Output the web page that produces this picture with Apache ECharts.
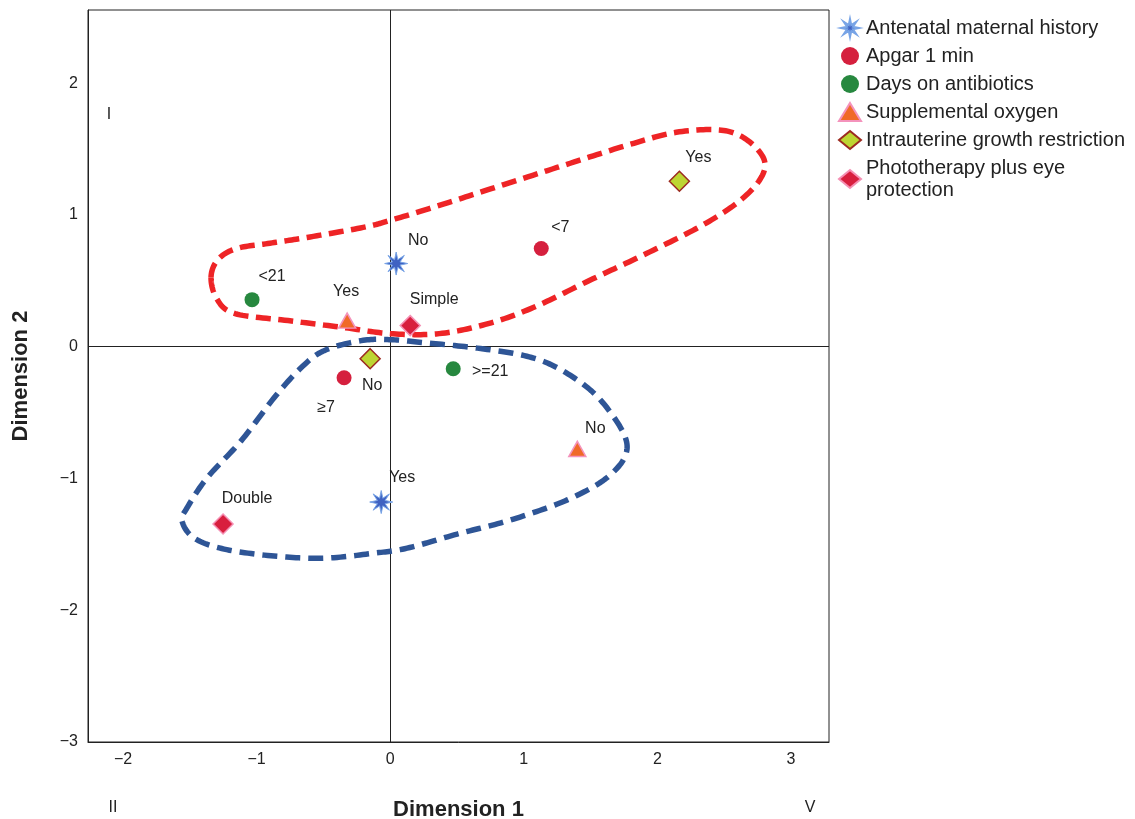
<!DOCTYPE html>
<html>
<head>
<meta charset="utf-8">
<script src="https://cdn.jsdelivr.net/npm/echarts@6/dist/echarts.min.js"></script>
<style>
html,body{margin:0;padding:0;background:#fff;}
#chart{width:1135px;height:819px;}
</style>
</head>
<body>
<div id="chart"></div>
<script>
// ---- Data ----
const seriesNames = [
  'Antenatal maternal history',
  'Apgar 1 min',
  'Days on antibiotics',
  'Supplemental oxygen',
  'Intrauterine growth restriction',
  'Phototherapy plus eye protection'
];
const antenatalValues = [[0.045, 0.631], [-0.067, -1.179]];
const antenatalLabels = ['No', 'Yes'];
const apgarValues = [[1.131, 0.745], [-0.345, -0.236]];
const apgarLabels = ['<7', '\u22657'];
const daysValues = [[-1.034, 0.357], [0.472, -0.167]];
const daysLabels = ['<21', '>=21'];
const oxygenValues = [[-0.322, 0.198], [1.401, -0.776]];
const oxygenLabels = ['Yes', 'No'];
const iugrValues = [[2.165, 1.255], [-0.150, -0.091]];
const iugrLabels = ['Yes', 'No'];
const photoValues = [[0.150, 0.160], [-1.251, -1.346]];
const photoLabels = ['Simple', 'Double'];

// cluster outlines (data coordinates)
const redOutline = [
  [-1.341, 0.525], [-1.290, 0.660], [-1.150, 0.745], [-0.900, 0.785], [-0.622, 0.829], [-0.202, 0.905],
  [0.000, 0.958], [0.367, 1.072], [0.787, 1.209], [1.348, 1.392], [1.775, 1.529],
  [2.142, 1.627], [2.479, 1.643], [2.674, 1.567], [2.801, 1.414], [2.764, 1.262],
  [2.592, 1.087], [2.307, 0.905], [1.918, 0.707], [1.491, 0.502], [1.071, 0.297],
  [0.734, 0.175], [0.367, 0.099], [0.000, 0.099], [-0.337, 0.144], [-0.764, 0.198],
  [-1.161, 0.251], [-1.296, 0.360]
];
const blueOutline = [
  [-0.217, 0.046], [0.007, 0.053], [0.255, 0.030], [0.629, -0.008], [1.004, -0.068],
  [1.251, -0.160], [1.506, -0.335], [1.678, -0.540], [1.768, -0.715], [1.753, -0.844],
  [1.655, -0.966], [1.506, -1.072], [1.251, -1.194], [0.876, -1.323], [0.502, -1.422],
  [0.127, -1.529], [-0.120, -1.567], [-0.494, -1.605], [-0.869, -1.589], [-1.243, -1.536],
  [-1.468, -1.452], [-1.558, -1.323], [-1.521, -1.224], [-1.371, -0.996], [-1.116, -0.715],
  [-0.869, -0.388], [-0.667, -0.160], [-0.494, -0.030]
];

const xTicks = [-2, -1, 0, 1, 2, 3];
const yTicks = [-3, -2, -1, 0, 1, 2];

// ---- label placement (pixel offsets from the marker) ----
const antenatalLabelOffsets = [[22, -23], [21, -24]];
const apgarLabelOffsets = [[19, -21], [-18, 30]];
const daysLabelOffsets = [[20, -23], [37, 3]];
const oxygenLabelOffsets = [[-1, -29], [18, -20]];
const iugrLabelOffsets = [[19, -24], [2, 27]];
const photoLabelOffsets = [[24, -26], [24, -25]];

// ---- styling ----
const FONT = '"Liberation Sans", Arial, Helvetica, sans-serif';
function starPath() {
  const pts = [];
  for (let i = 0; i < 16; i++) {
    const a = i * Math.PI / 8 - Math.PI / 2;
    const r = (i % 2 === 0) ? 10 : 3.6;
    pts.push((10 + r * Math.cos(a)).toFixed(3) + ',' + (10 + r * Math.sin(a)).toFixed(3));
  }
  return 'path://M' + pts.join('L') + 'Z';
}
const STAR = starPath();

function makeData(values, labels, offsets) {
  return values.map((v, i) => ({
    value: v,
    label: {
      show: true,
      formatter: labels[i],
      position: 'inside',
      offset: offsets[i],
      align: 'center',
      verticalAlign: 'middle',
      color: '#222',
      fontSize: 16,
      fontFamily: FONT
    }
  }));
}

function fmt(v) {
  const r = Math.round(v);
  if (Math.abs(v - r) > 1e-6) return '';
  return r < 0 ? '\u2212' + Math.abs(r) : String(r);
}

// closed Catmull-Rom curve through screen points, sampled into a polyline
function closedSpline(pts, steps) {
  const n = pts.length, out = [];
  for (let i = 0; i < n; i++) {
    const p0 = pts[(i - 1 + n) % n], p1 = pts[i], p2 = pts[(i + 1) % n], p3 = pts[(i + 2) % n];
    for (let s = 0; s < steps; s++) {
      const t = s / steps, t2 = t * t, t3 = t2 * t;
      const f = (a, b, c, d) => 0.5 * ((2 * b) + (-a + c) * t + (2 * a - 5 * b + 4 * c - d) * t2 + (-a + 3 * b - 3 * c + d) * t3);
      out.push([f(p0[0], p1[0], p2[0], p3[0]), f(p0[1], p1[1], p2[1], p3[1])]);
    }
  }
  return out;
}

function outlineSeries(points, color, dash) {
  return {
    type: 'custom',
    coordinateSystem: 'cartesian2d',
    silent: true,
    z: 1,
    data: [[0, 0]],
    renderItem: function (params, api) {
      const screen = points.map(p => api.coord(p));
      return {
        type: 'polygon',
        shape: { points: closedSpline(screen, 16) },
        style: { fill: 'none', stroke: color, lineWidth: 5.5, lineDash: dash, lineCap: 'butt' }
      };
    }
  };
}

const chart = echarts.init(document.getElementById('chart'), null, { renderer: 'canvas' });

const option = {
  backgroundColor: '#fff',
  animation: false,
  textStyle: { fontFamily: FONT },
  grid: {
    left: 88, right: 306, top: 10, bottom: 77,
    containLabel: false,
    outerBoundsMode: 'none',
    show: true, borderColor: '#222', borderWidth: 1, backgroundColor: 'transparent'
  },
  legend: {
    data: seriesNames,
    orient: 'vertical',
    left: 833, top: 12,
    itemWidth: 22, itemHeight: 18, itemGap: 6,
    textStyle: { fontSize: 20, lineHeight: 22, color: '#222', fontFamily: FONT },
    formatter: function (name) {
      return name === 'Phototherapy plus eye protection' ? 'Phototherapy plus eye\nprotection' : name;
    }
  },
  xAxis: {
    type: 'value',
    min: -2.262, max: 3.285,
    splitNumber: 6,
    name: 'Dimension 1',
    nameLocation: 'middle',
    nameGap: 57,
    nameTextStyle: { fontSize: 22, fontWeight: 'bold', color: '#222', fontFamily: FONT },
    axisLine: { show: true, onZero: false, lineStyle: { color: '#222', width: 1 } },
    axisTick: { show: false },
    splitLine: { show: false },
    axisLabel: {
      formatter: fmt, showMinLabel: false, showMaxLabel: false,
      fontSize: 16, color: '#222', margin: 10, fontFamily: FONT
    }
  },
  yAxis: {
    type: 'value',
    min: -3, max: 2.555,
    splitNumber: 6,
    name: 'Dimension 2',
    nameLocation: 'middle',
    nameGap: 56,
    nameRotate: 90,
    nameTextStyle: { fontSize: 22, fontWeight: 'bold', color: '#222', fontFamily: FONT },
    axisLine: { show: true, onZero: false, lineStyle: { color: '#222', width: 1 } },
    axisTick: { show: false },
    splitLine: { show: false },
    axisLabel: {
      formatter: fmt, showMaxLabel: false,
      fontSize: 16, color: '#222', margin: 10, fontFamily: FONT
    }
  },
  graphic: [
    { type: 'text', x: 109, y: 115, style: { text: 'I', font: '16px ' + FONT, fill: '#222', align: 'center', verticalAlign: 'middle' } },
    { type: 'text', x: 113, y: 808, style: { text: 'II', font: '16px ' + FONT, fill: '#222', align: 'center', verticalAlign: 'middle' } },
    { type: 'text', x: 810, y: 808, style: { text: 'V', font: '16px ' + FONT, fill: '#222', align: 'center', verticalAlign: 'middle' } }
  ],
  series: [
    outlineSeries(redOutline, '#EE2426', [15, 7.5]),
    outlineSeries(blueOutline, '#2E5596', [15, 8]),
    {
      name: seriesNames[0], type: 'scatter', z: 3,
      symbol: STAR, symbolSize: 23,
      itemStyle: { color: '#3F62C2', borderColor: '#78A4E6', borderWidth: 1, opacity: 1 },
      data: makeData(antenatalValues, antenatalLabels, antenatalLabelOffsets),
      markLine: {
        silent: true, symbol: ['none', 'none'], label: { show: false },
        lineStyle: { color: '#222', width: 1, type: 'solid' },
        data: [{ xAxis: 0 }, { yAxis: 0 }],
        z: 0
      }
    },
    {
      name: seriesNames[1], type: 'scatter', z: 3,
      symbol: 'circle', symbolSize: 15,
      itemStyle: { color: '#D5203E', opacity: 1 },
      data: makeData(apgarValues, apgarLabels, apgarLabelOffsets)
    },
    {
      name: seriesNames[2], type: 'scatter', z: 3,
      symbol: 'circle', symbolSize: 15,
      itemStyle: { color: '#27883F', opacity: 1 },
      data: makeData(daysValues, daysLabels, daysLabelOffsets)
    },
    {
      name: seriesNames[3], type: 'scatter', z: 3,
      symbol: 'triangle', symbolSize: [17, 15],
      itemStyle: { color: '#F06A28', borderColor: '#F493BC', borderWidth: 1.5, opacity: 1 },
      data: makeData(oxygenValues, oxygenLabels, oxygenLabelOffsets)
    },
    {
      name: seriesNames[4], type: 'scatter', z: 3,
      symbol: 'diamond', symbolSize: 20,
      itemStyle: { color: '#BDD532', borderColor: '#9C2A20', borderWidth: 1.5, opacity: 1 },
      data: makeData(iugrValues, iugrLabels, iugrLabelOffsets)
    },
    {
      name: seriesNames[5], type: 'scatter', z: 3,
      symbol: 'diamond', symbolSize: 20,
      itemStyle: { color: '#D81F3E', borderColor: '#F590B4', borderWidth: 1.5, opacity: 1 },
      data: makeData(photoValues, photoLabels, photoLabelOffsets)
    }
  ]
};
chart.setOption(option);
</script>
</body>
</html>
